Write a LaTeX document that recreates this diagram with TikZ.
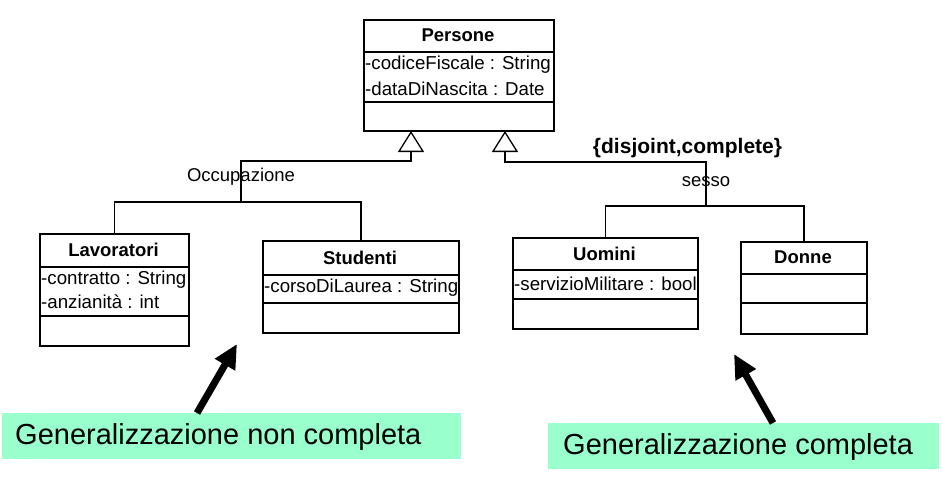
\documentclass[tikz,border=0pt]{standalone}
\usepackage{fontspec}
\setmainfont{Liberation Sans}
\usetikzlibrary{arrows.meta}
\definecolor{mint}{RGB}{153,255,204}
\tikzset{
  classbox/.style={draw, line width=1.8pt, inner sep=0pt, anchor=north west},
  divider/.style={line width=1.8pt},
  ctitle/.style={inner sep=0pt, font=\fontsize{18.5}{22}\selectfont\bfseries},
  attr/.style={anchor=west, inner sep=0pt, font=\fontsize{18.7}{22}\selectfont},
  link/.style={line width=1.3pt},
  gen/.style={link, -{Triangle[open, length=21pt, width=26pt]}},
  lbl/.style={inner sep=0pt, font=\fontsize{18.5}{22}\selectfont},
  cons/.style={inner sep=0pt, font=\fontsize{21}{25}\selectfont\bfseries},
  note/.style={fill=mint, anchor=north west, inner sep=0pt, minimum height=46pt},
  notetext/.style={anchor=west, inner sep=0pt, font=\fontsize{29}{34}\selectfont},
  bigarrow/.style={line width=7pt, -{Triangle[length=24pt, width=22pt]}}
}
\begin{document}
\begin{tikzpicture}[x=1pt, y=-1pt]
\useasboundingbox (0,0) rectangle (942,487);

% ---- Persone
\node[classbox, minimum width=190pt, minimum height=111pt] (persone) at (363,19) {};
\draw[divider] (363,52) -- (553,52);
\draw[divider] (363,102) -- (553,102);
\node[ctitle] (personeT) at (458,35.5) {Persone};
\node[attr] (p1) at (365,64.5) {-codiceFiscale : String};
\node[attr] (p2) at (365,88.5) {-dataDiNascita : Date};

% ---- Lavoratori
\node[classbox, minimum width=149pt, minimum height=112pt] (lav) at (39,233) {};
\draw[divider] (39,267) -- (188,267);
\draw[divider] (39,316) -- (188,316);
\node[ctitle] (lavT) at (113.5,250) {Lavoratori};
\node[attr] (l1) at (41,280) {-contratto : String};
\node[attr] (l2) at (41,302) {-anzianità : int};

% ---- Studenti
\node[classbox, minimum width=196pt, minimum height=92pt] (stu) at (262,240) {};
\draw[divider] (262,275) -- (458,275);
\draw[divider] (262,303) -- (458,303);
\node[ctitle] (stuT) at (360,257.5) {Studenti};
\node[attr] (s1) at (264,288) {-corsoDiLaurea : String};

% ---- Uomini
\node[classbox, minimum width=185pt, minimum height=91pt] (uom) at (512,237) {};
\draw[divider] (512,270) -- (697,270);
\draw[divider] (512,299) -- (697,299);
\node[ctitle] (uomT) at (604.5,253.5) {Uomini};
\node[attr] (u1) at (514,284) {-servizioMilitare : bool};

% ---- Donne
\node[classbox, minimum width=126pt, minimum height=92pt] (don) at (740,241) {};
\draw[divider] (740,274) -- (866,274);
\draw[divider] (740,303) -- (866,303);
\node[ctitle] (donT) at (803,257.5) {Donne};

% ---- generalization: Occupazione
\coordinate (pL) at (411,131);
\coordinate (jL) at (241,202);
\draw[link] (lav.north) |- (jL) -| (stu.north);
\draw[gen] (jL) -- ++(0,-41) -| (pL);
\node[lbl] (occ) at (241,177) {Occupazione};

% ---- generalization: sesso
\coordinate (pR) at (505,131);
\coordinate (jR) at (706,206);
\draw[link] (uom.north) |- (jR) -| (don.north);
\draw[gen] (jR) -- ++(0,-44) -| (pR);
\node[lbl] (sesso) at (706,182) {sesso};
\node[cons] (dc) at (687.5,148) {\{disjoint,complete\}};

% ---- notes
\node[note, minimum width=459pt] (gL) at (2,413) {};
\node[notetext] (gLt) at (15,437) {Generalizzazione non completa};
\node[note, minimum width=391pt] (gR) at (548,423) {};
\node[notetext] (gRt) at (563,447) {Generalizzazione completa};

\coordinate (tailL) at (197,413);
\coordinate (tipL) at (237,344);
\draw[bigarrow] (tailL) -- (tipL);
\coordinate (tailR) at (773,423);
\coordinate (tipR) at (734,354);
\draw[bigarrow] (tailR) -- (tipR);
\end{tikzpicture}
\end{document}
